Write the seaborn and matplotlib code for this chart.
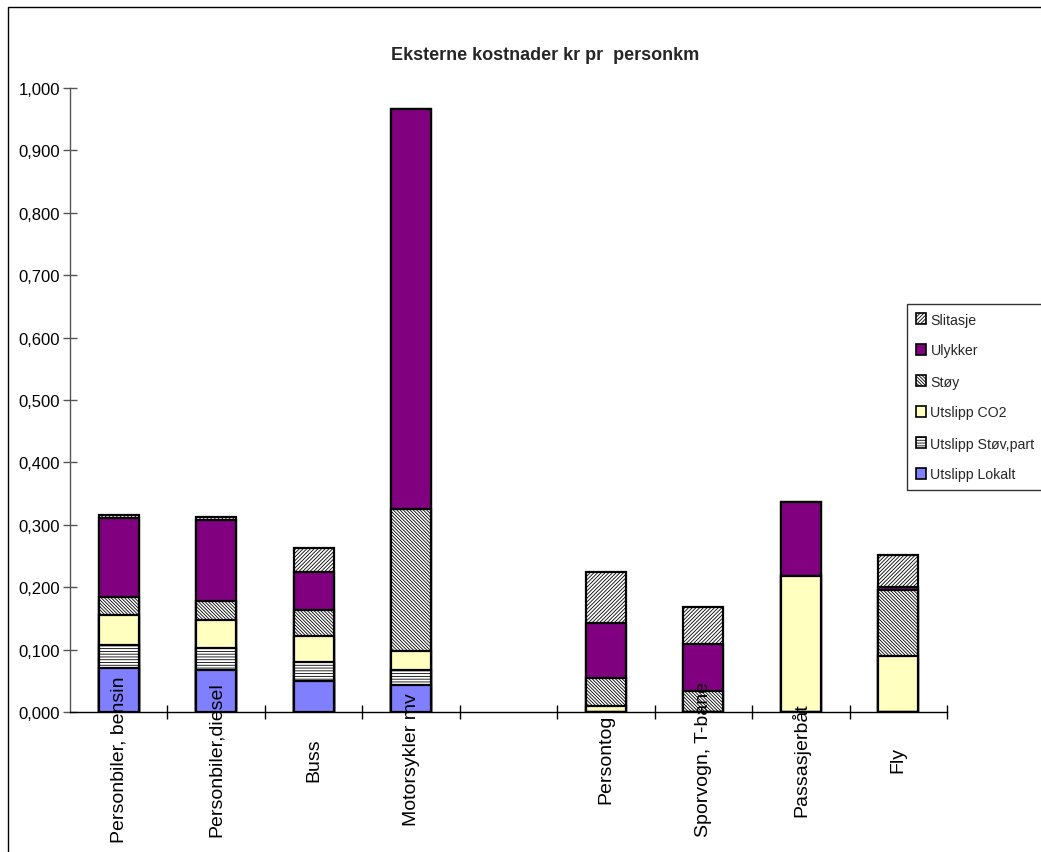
import matplotlib
matplotlib.use("Agg")
import matplotlib.pyplot as plt
from matplotlib.patches import Patch, Rectangle
from matplotlib.ticker import FixedLocator, FuncFormatter
import numpy as np
import pandas as pd
import seaborn as sns

# Transport modes; the blank slot separates road modes from rail/sea/air
categories = ["Personbiler, bensin", "Personbiler,diesel", "Buss", "Motorsykler mv", "",
              "Persontog", "Sporvogn, T-bane", "Passasjerbåt", "Fly"]

# External costs (kr per person-km), one list per cost component (None = empty slot)
utslipp_lokalt = [0.070, 0.067, 0.050, 0.044, None, 0.000, 0.000, 0.000, 0.000]
utslipp_stov = [0.038, 0.035, 0.030, 0.024, None, 0.000, 0.000, 0.000, 0.000]
utslipp_co2 = [0.048, 0.046, 0.041, 0.029, None, 0.010, 0.000, 0.218, 0.089]
stoy = [0.029, 0.030, 0.042, 0.228, None, 0.045, 0.034, 0.000, 0.106]
ulykker = [0.126, 0.129, 0.062, 0.642, None, 0.088, 0.075, 0.119, 0.006]
slitasje = [0.004, 0.005, 0.038, 0.000, None, 0.081, 0.060, 0.000, 0.051]

series_names = ["Utslipp Lokalt", "Utslipp Støv,part", "Utslipp CO2", "Støy", "Ulykker", "Slitasje"]
series_values = [utslipp_lokalt, utslipp_stov, utslipp_co2, stoy, ulykker, slitasje]

y_ticks = [0.0, 0.1, 0.2, 0.3, 0.4, 0.5, 0.6, 0.7, 0.8, 0.9, 1.0]

styles = {
    "Utslipp Lokalt": dict(color="#8080FF", hatch=None),
    "Utslipp Støv,part": dict(color="#FFFFFF", hatch="------"),
    "Utslipp CO2": dict(color="#FFFFC0", hatch=None),
    "Støy": dict(color="#FFFFFF", hatch="\\\\\\\\\\\\\\\\\\\\"),
    "Ulykker": dict(color="#800080", hatch=None),
    "Slitasje": dict(color="#FFFFFF", hatch="/////////"),
}

sns.set_theme(style="white")
plt.rcParams["font.family"] = ["Liberation Sans", "DejaVu Sans"]
plt.rcParams["hatch.color"] = "#404040"
plt.rcParams["hatch.linewidth"] = 0.6

slot = [f"c{i}" for i in range(len(categories))]
df = pd.DataFrame({"slot": slot})
cum = np.zeros(len(categories))
for name, vals in zip(series_names, series_values):
    cum = cum + np.array([np.nan if v is None else v for v in vals], dtype=float)
    df[name] = cum
df = df.dropna()

fig = plt.figure(figsize=(10.41, 8.53), dpi=100)
ax = fig.add_axes([70 / 1041, 1 - 713 / 853, (947 - 70) / 1041, (713 - 89) / 853])

# Stacked bars: draw cumulative totals from the top component downwards
for name in reversed(series_names):
    st = styles[name]
    sns.barplot(data=df, x="slot", y=name, order=slot, color=st["color"], saturation=1,
                width=0.41, edgecolor="black", linewidth=1.6, hatch=st["hatch"],
                ax=ax, errorbar=None)

ax.set_xlim(-0.5, len(categories) - 0.5)
ax.set_ylim(0, 1.0)
ax.set_xlabel("")
ax.set_ylabel("")

ax.yaxis.set_major_locator(FixedLocator(y_ticks))
ax.yaxis.set_major_formatter(FuncFormatter(lambda v, p: f"{v:.3f}".replace(".", ",")))
ax.tick_params(axis="y", direction="inout", length=10, width=1, colors="#555555",
               labelcolor="black", labelsize=12, pad=2, left=True)

ax.set_xticks([])
ax.set_xticks(np.arange(len(categories)) + 0.5, minor=True)
ax.tick_params(axis="x", which="minor", direction="inout", length=10, width=1,
               color="black", bottom=True)

for s in ["top", "right"]:
    ax.spines[s].set_visible(False)
ax.spines["left"].set_color("#555555")
ax.spines["bottom"].set_color("black")
ax.spines["left"].set_linewidth(1)
ax.spines["bottom"].set_linewidth(1)

# Category names, rotated and centred below the axis
for i, c in enumerate(categories):
    if c:
        ax.text(i, -0.075, c, rotation=90, ha="center", va="center", fontsize=14,
                color="black", clip_on=False, zorder=5)

fig.text(545 / 1041, 1 - 55 / 853, "Eksterne kostnader kr pr  personkm", ha="center",
         va="center", fontsize=13, fontweight="bold")

handles = [Patch(facecolor=styles[n]["color"], edgecolor="black", hatch=styles[n]["hatch"],
                 linewidth=1.2, label=n) for n in reversed(series_names)]
leg = fig.legend(handles=handles, loc="upper left", bbox_to_anchor=(907 / 1041, 1 - 305 / 853),
                 borderaxespad=0, frameon=True, fancybox=False, shadow=False,
                 handlelength=0.75, handleheight=0.75, handletextpad=0.3,
                 labelspacing=1.2, borderpad=0.6, fontsize=10.2)
leg.get_frame().set_edgecolor("black")
leg.get_frame().set_linewidth(1)

# Outer chart frame
fig.patches.append(Rectangle((8 / 1041, -0.2), 2, 1.2 - 8 / 853, transform=fig.transFigure,
                             fill=False, edgecolor="black", linewidth=1))

fig.savefig("out.png", dpi=100, facecolor="white")
